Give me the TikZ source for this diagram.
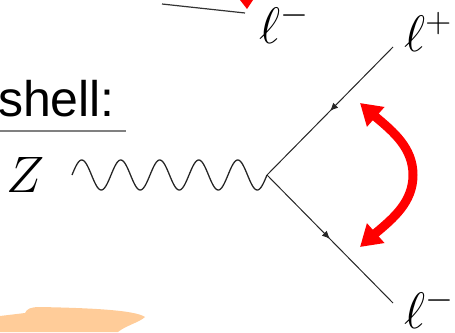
\RequirePackage{fix-cm}
\documentclass[tikz,border=0pt]{standalone}
\usepackage{fontspec}
\setsansfont{Liberation Sans}
\usetikzlibrary{arrows.meta,bending,decorations.markings}

\definecolor{blob}{RGB}{255,204,153}

\begin{document}
\begin{tikzpicture}[x=1pt,y=-1pt,
  fermion/.style={draw=black!85, line width=1pt, postaction={decorate},
    decoration={markings, mark=at position 0.5 with {\arrow{Latex[length=8pt,width=7pt]}}}},
  photon/.style={draw=black!85, line width=1.3pt},
  lbl/.style={inner sep=0pt, font=\fontsize{25}{30}\selectfont, scale=2.05}]
\useasboundingbox (0,0) rectangle (455,332);
\clip (0,0) rectangle (455,332);

% orange brush stroke
\fill[blob] (0,316) -- (25,313) .. controls (27,309) and (30,307) .. (40,307)
  .. controls (90,308) and (135,310) .. (145,317)
  .. controls (140,322) and (125,326) .. (118,332) -- (0,332) -- cycle;

% rest of the upper diagram
\coordinate (tl) at (162,4);
\coordinate (tr) at (245,13);
\draw[black!80, line width=1.2pt] (tl) -- (tr);
\fill[red] (240,0) -- (253,0) -- (247,9) -- cycle;
\node[lbl, anchor=base west] (ltop) at (259,43) {$\ell^-$};

% heading
\node[anchor=base east, inner sep=0pt, font=\sffamily\fontsize{50}{60}\selectfont] (shell) at (115,116) {shell:};
\draw[gray, line width=2pt] (0,131) -- (126,131);

% Z -> l+ l-
\node[lbl, anchor=base] (z) at (26,192) {$Z$};
\coordinate (zin) at (72,175);
\coordinate (vtx) at (267,175);
\coordinate (pend) at (393,47);
\coordinate (mend) at (393,303);
\draw[photon, shift={(zin)}] plot[domain=0:5, samples=200, smooth] ({39*\x}, {-15*sin(360*\x)});
\draw[fermion] (pend) -- (vtx);
\draw[fermion] (vtx) -- (mend);
\node[lbl, anchor=base west] (lp) at (404,51) {$\ell^+$};
\node[lbl, anchor=base west] (lm) at (404,328) {$\ell^-$};

% angle arrow
\coordinate (ra) at (360,103);
\coordinate (rmid) at (413,175);
\coordinate (rb) at (360,247);
\draw[red, line width=9pt, {Triangle[length=21pt,width=25pt]}-{Triangle[length=21pt,width=25pt]}]
  (ra) .. controls (380,123) and (413,140) .. (rmid)
  .. controls (413,210) and (380,227) .. (rb);
\end{tikzpicture}
\end{document}
